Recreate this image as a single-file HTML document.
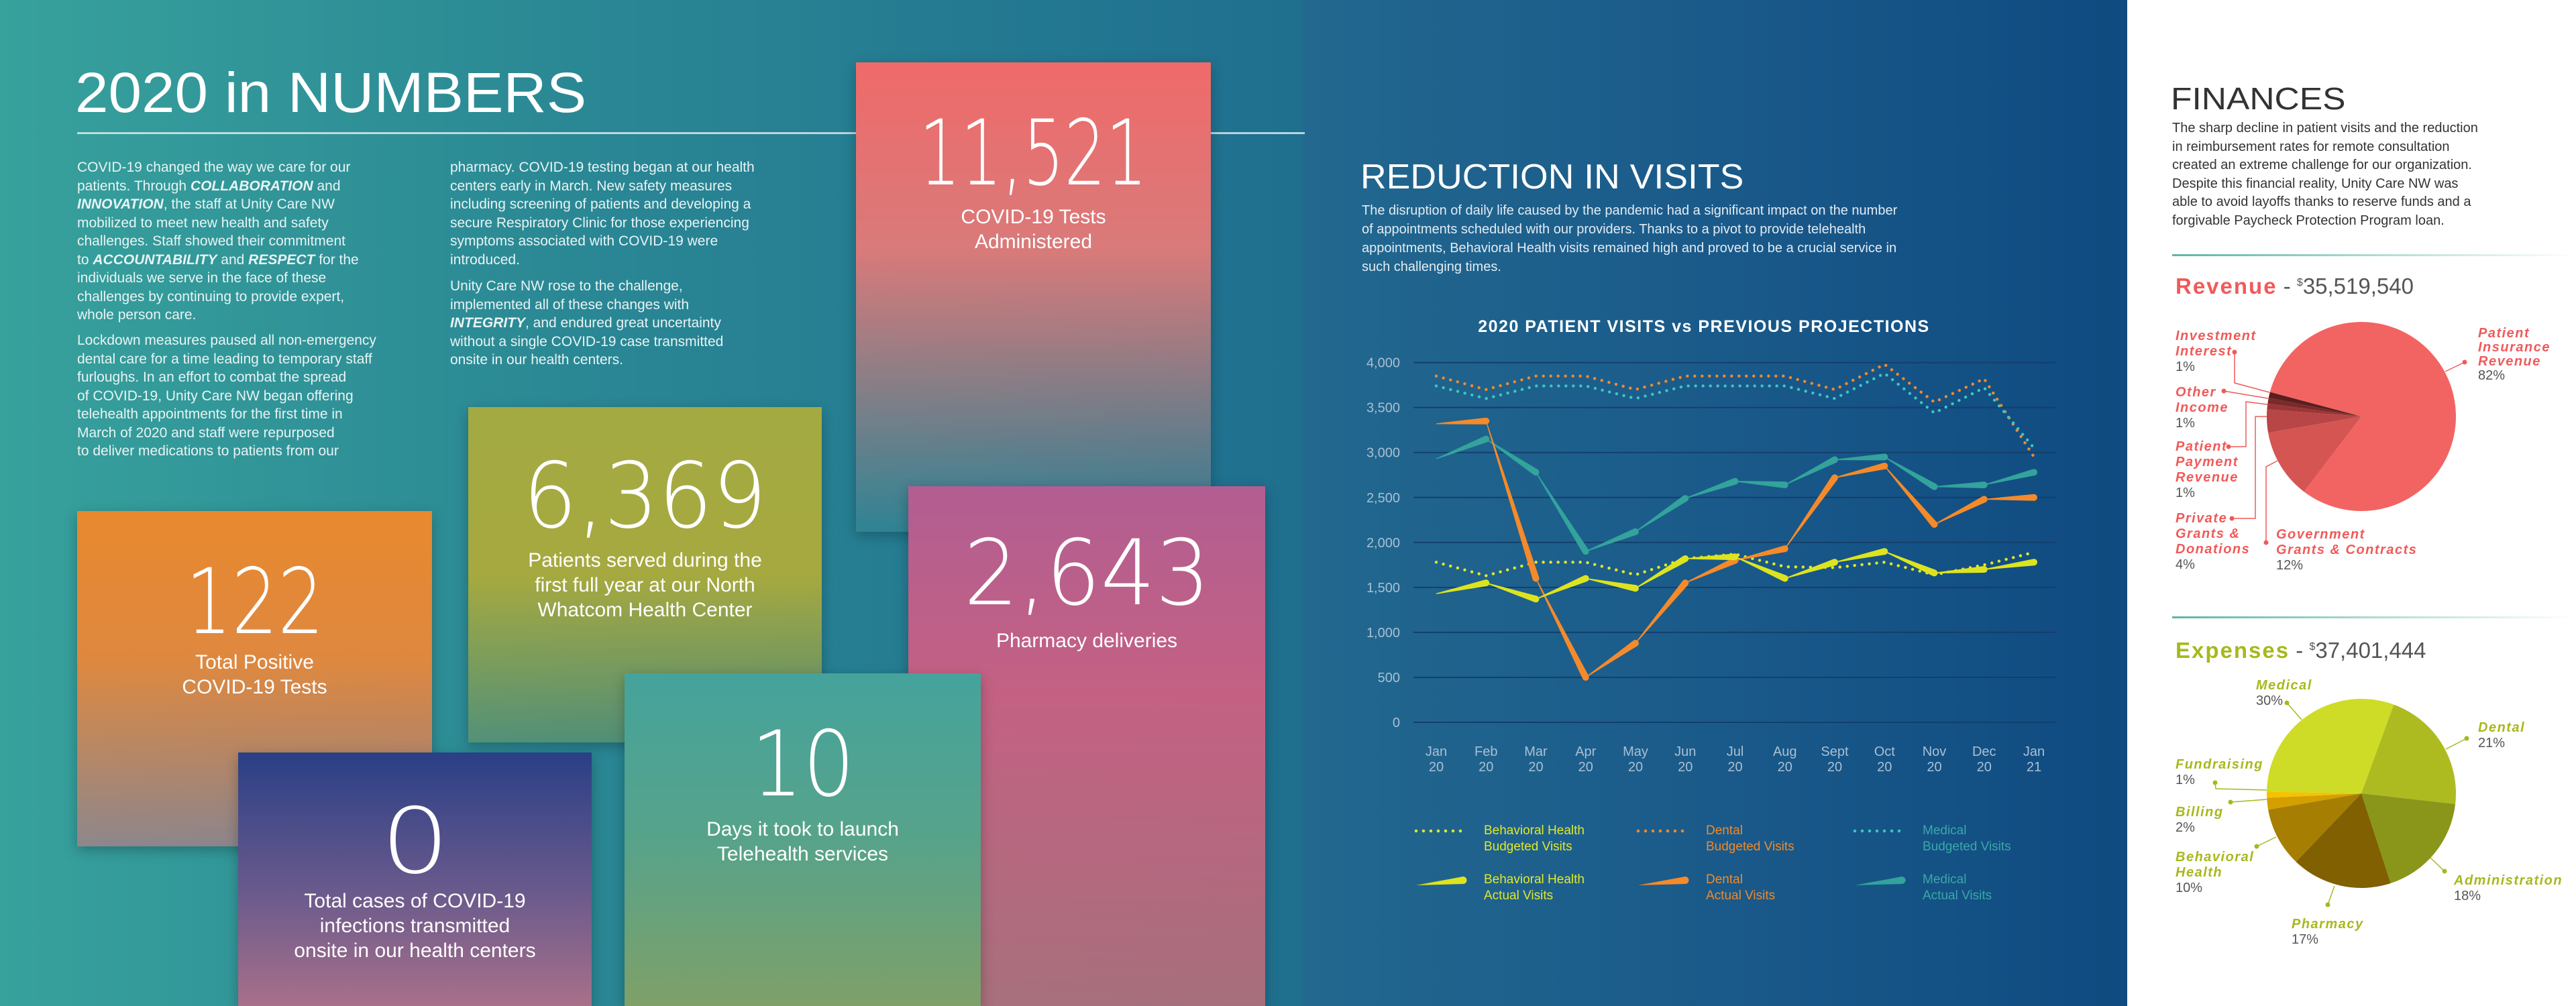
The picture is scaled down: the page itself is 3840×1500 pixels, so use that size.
<!DOCTYPE html>
<html><head><meta charset="utf-8">
<style>
*{margin:0;padding:0;box-sizing:border-box}
body{width:3840px;height:1500px;position:relative;overflow:hidden;font-family:"Liberation Sans",sans-serif}
.abs{position:absolute}
#left{left:0;top:0;width:1942px;height:1500px;background:linear-gradient(90deg,#37a19c 0%,#2a8794 45%,#1f6f8f 100%)}
#mid{left:1942px;top:0;width:1229px;height:1500px;background:linear-gradient(90deg,#22688f 0%,#1a5a8a 50%,#0f4a80 100%)}
#right{left:3171px;top:0;width:669px;height:1500px;background:#fff}
.body{color:#e8f4f4;font-size:21px;line-height:27.5px;white-space:nowrap}
.body b{font-style:italic;font-weight:bold}
.box{position:absolute;box-shadow:0 6px 18px rgba(0,0,0,.25);color:#fff;text-align:center}
.big{position:absolute;left:0;width:100%;color:#fff;line-height:1;font-family:"DejaVu Sans ExtraLight","DejaVu Sans",sans-serif;font-weight:200}
.big span{display:inline-block;transform-origin:center}
.cap{position:absolute;left:0;width:100%;font-size:30px;line-height:37px;color:#fff}
.rl{position:absolute;font-size:20px;font-weight:bold;font-style:italic;letter-spacing:1.5px;line-height:23px;white-space:nowrap}
.pc{font-style:normal;font-weight:normal;color:#555;letter-spacing:0}
</style></head><body>
<div id="left" class="abs"></div>
<div id="mid" class="abs"></div>
<div id="right" class="abs"></div>

<div class="abs" style="left:112px;top:90px;font-size:84px;font-family:'DejaVu Sans ExtraLight','Liberation Sans',sans-serif;font-weight:200;color:#fff;white-space:nowrap;transform:scaleX(1.06);transform-origin:left">2020 in NUMBERS</div>
<div class="abs" style="left:115px;top:197px;width:1830px;height:3px;background:rgba(220,240,240,.8)"></div>

<div class="abs body" style="left:115px;top:236px">COVID-19 changed the way we care for our<br>patients. Through <b>COLLABORATION</b> and<br><b>INNOVATION</b>, the staff at Unity Care NW<br>mobilized to meet new health and safety<br>challenges. Staff showed their commitment<br>to <b>ACCOUNTABILITY</b> and <b>RESPECT</b> for the<br>individuals we serve in the face of these<br>challenges by continuing to provide expert,<br>whole person care.</div>
<div class="abs body" style="left:115px;top:494px">Lockdown measures paused all non-emergency<br>dental care for a time leading to temporary staff<br>furloughs. In an effort to combat the spread<br>of COVID-19, Unity Care NW began offering<br>telehealth appointments for the first time in<br>March of 2020 and staff were repurposed<br>to deliver medications to patients from our</div>
<div class="abs body" style="left:671px;top:236px">pharmacy. COVID-19 testing began at our health<br>centers early in March. New safety measures<br>including screening of patients and developing a<br>secure Respiratory Clinic for those experiencing<br>symptoms associated with COVID-19 were<br>introduced.</div>
<div class="abs body" style="left:671px;top:413px">Unity Care NW rose to the challenge,<br>implemented all of these changes with<br><b>INTEGRITY</b>, and endured great uncertainty<br>without a single COVID-19 case transmitted<br>onsite in our health centers.</div>

<div class="box" style="left:1276px;top:93px;width:529px;height:700px;background:linear-gradient(180deg,#f06a6a 0%,#d97a7a 40%,rgba(60,140,150,.4) 100%)">
<div class="big" style="top:68px;font-size:135px"><span style="transform:scaleX(0.72)">11,521</span></div><div class="cap" style="top:212px">COVID-19 Tests<br>Administered</div></div>
<div class="box" style="left:698px;top:607px;width:527px;height:500px;background:linear-gradient(180deg,#a3aa42 0%,#a6a93f 50%,rgba(120,150,90,.5) 100%)">
<div class="big" style="top:65px;font-size:135px"><span style="transform:scaleX(0.94)">6,369</span></div><div class="cap" style="top:210px">Patients served during the<br>first full year at our North<br>Whatcom Health Center</div></div>
<div class="box" style="left:115px;top:762px;width:529px;height:500px;background:linear-gradient(180deg,#e8892e 0%,#de8840 45%,rgba(200,120,130,.6) 100%)">
<div class="big" style="top:68px;font-size:135px"><span style="transform:scaleX(0.8)">122</span></div><div class="cap" style="top:207px">Total Positive<br>COVID-19 Tests</div></div>
<div class="box" style="left:1354px;top:725px;width:532px;height:775px;background:linear-gradient(180deg,#b25e92 0%,#c46183 40%,rgba(190,110,120,.85) 100%)">
<div class="big" style="top:62px;font-size:135px"><span style="transform:scaleX(0.95)">2,643</span></div><div class="cap" style="top:212px">Pharmacy deliveries</div></div>
<div class="box" style="left:931px;top:1004px;width:531px;height:496px;background:linear-gradient(180deg,#45a39c 0%,#57a38a 50%,#7fa068 100%)">
<div class="big" style="top:68px;font-size:135px"><span style="transform:scaleX(0.9)">10</span></div><div class="cap" style="top:214px">Days it took to launch<br>Telehealth services</div></div>
<div class="box" style="left:355px;top:1122px;width:527px;height:378px;background:linear-gradient(180deg,#2a3f86 0%,#6a5a8c 55%,#a8708a 100%)">
<div class="big" style="top:65px;font-size:135px"><span style="transform:scaleX(1.2)">0</span></div><div class="cap" style="top:203px">Total cases of COVID-19<br>infections transmitted<br>onsite in our health centers</div></div>

<div class="abs" style="left:2028px;top:234px;font-size:52px;font-family:'DejaVu Sans ExtraLight','Liberation Sans',sans-serif;font-weight:200;color:#fff;white-space:nowrap;transform:scaleX(1.03);transform-origin:left">REDUCTION IN VISITS</div>
<div class="abs" style="left:2030px;top:300px;font-size:20px;line-height:28px;color:#e2ecf4;white-space:nowrap">The disruption of daily life caused by the pandemic had a significant impact on the number<br>of appointments scheduled with our providers. Thanks to a pivot to provide telehealth<br>appointments, Behavioral Health visits remained high and proved to be a crucial service in<br>such challenging times.</div>

<svg class="abs" style="left:0;top:0" width="3840" height="1500">
<text x="2540" y="495" text-anchor="middle" fill="#fff" font-size="25" font-weight="bold" letter-spacing="1.5">2020 PATIENT VISITS vs PREVIOUS PROJECTIONS</text>
<g id="grid"></g><g id="series"></g><g id="legend"></g>
</svg>

<div class="abs" style="left:3236px;top:120px;font-size:46px;font-family:'DejaVu Sans ExtraLight','Liberation Sans',sans-serif;font-weight:200;color:#333;transform:scaleX(1.12);transform-origin:left">FINANCES</div>
<div class="abs" style="left:3238px;top:178px;font-size:20px;line-height:27.5px;color:#333;white-space:nowrap">The sharp decline in patient visits and the reduction<br>in reimbursement rates for remote consultation<br>created an extreme challenge for our organization.<br>Despite this financial reality, Unity Care NW was<br>able to avoid layoffs thanks to reserve funds and a<br>forgivable Paycheck Protection Program loan.</div>
<div class="abs" style="left:3238px;top:379px;width:602px;height:3px;background:linear-gradient(90deg,#5bb6a6,rgba(91,182,166,0))"></div>
<div class="abs" style="left:3238px;top:919px;width:602px;height:3px;background:linear-gradient(90deg,#5bb6a6,rgba(91,182,166,0))"></div>
<div class="abs" style="left:3243px;top:408px;font-size:33px;white-space:nowrap"><b style="color:#f05a5a;letter-spacing:2px">Revenue</b> <span style="color:#555"> - <sup style="font-size:16px">$</sup>35,519,540</span></div>
<div class="abs" style="left:3243px;top:951px;font-size:33px;white-space:nowrap"><b style="color:#a8b81c;letter-spacing:2px">Expenses</b> <span style="color:#555"> - <sup style="font-size:16px">$</sup>37,401,444</span></div>

<svg class="abs" style="left:3171px;top:0" width="669" height="1500">
<g id="revpie"></g><g id="exppie"></g><g id="leaders" stroke-width="1.5" fill="none"></g>
</svg>

<div class="rl" style="left:3243px;top:490px;color:#f05a5a">Investment<br>Interest<br><span class="pc">1%</span></div>
<div class="rl" style="left:3243px;top:574px;color:#f05a5a">Other<br>Income<br><span class="pc">1%</span></div>
<div class="rl" style="left:3243px;top:655px;color:#f05a5a">Patient<br>Payment<br>Revenue<br><span class="pc">1%</span></div>
<div class="rl" style="left:3243px;top:762px;color:#f05a5a">Private<br>Grants &amp;<br>Donations<br><span class="pc">4%</span></div>
<div class="rl" style="left:3393px;top:786px;color:#f05a5a">Government<br>Grants &amp; Contracts<br><span class="pc">12%</span></div>
<div class="rl" style="left:3694px;top:487px;color:#f05a5a;line-height:21px">Patient<br>Insurance<br>Revenue<br><span class="pc">82%</span></div>

<div class="rl" style="left:3363px;top:1011px;color:#a8b81c">Medical<br><span class="pc">30%</span></div>
<div class="rl" style="left:3694px;top:1074px;color:#a8b81c">Dental<br><span class="pc">21%</span></div>
<div class="rl" style="left:3243px;top:1129px;color:#a8b81c">Fundraising<br><span class="pc">1%</span></div>
<div class="rl" style="left:3243px;top:1200px;color:#a8b81c">Billing<br><span class="pc">2%</span></div>
<div class="rl" style="left:3243px;top:1267px;color:#a8b81c">Behavioral<br>Health<br><span class="pc">10%</span></div>
<div class="rl" style="left:3416px;top:1367px;color:#a8b81c">Pharmacy<br><span class="pc">17%</span></div>
<div class="rl" style="left:3658px;top:1302px;color:#a8b81c">Administration<br><span class="pc">18%</span></div>

<script>
const months = ["Jan","Feb","Mar","Apr","May","Jun","Jul","Aug","Sept","Oct","Nov","Dec","Jan"];
const years = ["20","20","20","20","20","20","20","20","20","20","20","20","21"];
const yTicks = [0,500,1000,1500,2000,2500,3000,3500,4000];
const behavioralBudget = [1780,1630,1780,1780,1640,1820,1870,1730,1720,1780,1640,1750,1890];
const dentalBudget = [3850,3700,3850,3850,3700,3850,3850,3850,3700,3980,3560,3820,2950];
const medicalBudget = [3740,3600,3740,3740,3600,3740,3740,3740,3600,3880,3440,3720,3050];
const behavioralActual = [1430,1550,1370,1600,1490,1820,1840,1600,1780,1900,1660,1700,1780];
const dentalActual = [3320,3350,1600,500,880,1550,1800,1930,2720,2850,2200,2480,2500];
const medicalActual = [2930,3150,2780,1900,2120,2490,2680,2640,2920,2950,2620,2640,2780];
const revenueLabels = ["Patient Insurance Revenue","Government Grants & Contracts","Private Grants & Donations","Patient Payment Revenue","Other Income","Investment Interest"];
const revenueValues = [82,12,4,1,1,1];
const expenseLabels = ["Medical","Dental","Administration","Pharmacy","Behavioral Health","Billing","Fundraising"];
const expenseValues = [30,21,18,17,10,2,1];

const NS="http://www.w3.org/2000/svg";
function mk(tag,attrs,parent){const e=document.createElementNS(NS,tag);for(const k in attrs)e.setAttribute(k,attrs[k]);parent.appendChild(e);return e;}
const X0=2141,XSTEP=74.25,Y0=1077,Y4000=540.6;
function xs(i){return X0+i*XSTEP;}
function ys(v){return Y0-v*(Y0-Y4000)/4000;}

const grid=document.getElementById('grid');
yTicks.forEach(t=>{
  const l=mk('line',{x1:2107,x2:3064,y1:ys(t),y2:ys(t),stroke:'#143f6c','stroke-width':2},grid);
  
  
  const tx=mk('text',{x:2087,y:ys(t)+7,'text-anchor':'end',fill:'#a9c0d4','font-size':20},grid);
  tx.textContent=t.toLocaleString('en-US');
  
  
});
months.forEach((m,i)=>{
  const tx=mk('text',{x:xs(i),y:1127,'text-anchor':'middle',fill:'#a9c0d4','font-size':20},grid);
  tx.textContent=m;
  
  
  const ty=mk('text',{x:xs(i),y:1150,'text-anchor':'middle',fill:'#a9c0d4','font-size':20},grid);
  ty.textContent=years[i];
  
  
});

const ser=document.getElementById('series');
function dotted(vals,color,name){
  const pts=vals.map((v,i)=>xs(i)+','+ys(v)).join(' ');
  const p=mk('polyline',{points:pts,fill:'none',stroke:color,'stroke-width':4.5,'stroke-linecap':'round','stroke-dasharray':'0 11'},ser);
  
  
}
function taper(vals,color,name){
  const g=mk('g',{fill:color},ser);
  
  
  for(let i=0;i<vals.length-1;i++){
    const x0=xs(i),y0=ys(vals[i]),x1=xs(i+1),y1=ys(vals[i+1]);
    const dx=x1-x0,dy=y1-y0,L=Math.hypot(dx,dy),nx=-dy/L,ny=dx/L,w0=0.6,w1=5;
    const poly=mk('polygon',{points:[x0+nx*w0,y0+ny*w0,x1+nx*w1,y1+ny*w1,x1-nx*w1,y1-ny*w1,x0-nx*w0,y0-ny*w0].join(' ')},g);
    
    
    const c=mk('circle',{cx:x1,cy:y1,r:5},g);
    
    
  }
}
dotted(dentalBudget,'#f08a2c','dental-budgeted-line');
dotted(medicalBudget,'#3cc6c0','medical-budgeted-line');
dotted(behavioralBudget,'#e2e829','behavioral-budgeted-line');
taper(medicalActual,'#33a39c','medical-actual-line');
taper(dentalActual,'#f58a2a','dental-actual-line');
taper(behavioralActual,'#dde41f','behavioral-actual-line');

const leg=document.getElementById('legend');
const legItems=[
 [2111,1237,'dot','#e2e829','Behavioral Health','Budgeted Visits','#e2e829'],
 [2442,1237,'dot','#f08a2c','Dental','Budgeted Visits','#f08a2c'],
 [2765,1237,'dot','#3cc6c0','Medical','Budgeted Visits','#3aa8a8'],
 [2111,1310,'tap','#dde41f','Behavioral Health','Actual Visits','#e2e829'],
 [2442,1310,'tap','#f58a2a','Dental','Actual Visits','#f08a2c'],
 [2765,1310,'tap','#33a39c','Medical','Actual Visits','#3aa8a8']];
legItems.forEach(it=>{
  const [x,y,type,c,l1,l2,tc]=it;
  const g=mk('g',{},leg);
  
  
  if(type==='dot') mk('line',{x1:x,x2:x+76,y1:y+2,y2:y+2,stroke:c,'stroke-width':4.5,'stroke-linecap':'round','stroke-dasharray':'0 11'},g);
  else { mk('polygon',{points:`${x},${y+10} ${x+70},${y-3} ${x+70},${y+8}`,fill:c},g); mk('circle',{cx:x+70,cy:y+2.5,r:5.5,fill:c},g); }
  const tx=mk('text',{x:x+101,y:y+7,fill:tc,'font-size':19},g);
  tx.textContent=l1;
  const ty=mk('text',{x:x+101,y:y+31,fill:tc,'font-size':19},g);
  ty.textContent=l2;
});

function pie(gid,vals,colors,cx,cy,r,startDeg,name){
  const g=document.getElementById(gid);
  const tot=vals.reduce((a,b)=>a+b,0);let a=startDeg*Math.PI/180;
  vals.forEach((v,i)=>{
    const da=v/tot*2*Math.PI,a2=a+da;
    const p=mk('path',{d:`M${cx},${cy} L${cx+r*Math.cos(a)},${cy+r*Math.sin(a)} A${r},${r} 0 ${da>Math.PI?1:0} 1 ${cx+r*Math.cos(a2)},${cy+r*Math.sin(a2)} Z`,fill:colors[i]},g);
    
    
    a=a2;
  });
}
pie('revpie',revenueValues,['#f26462','#d55553','#b84646','#9c3636','#7c2929','#5c1d1d'],349,621,141,195,'revenue');
pie('exppie',expenseValues,['#cedc27','#adbb21','#8a9619','#806000','#a67f02','#d4a000','#f6c200'],349,1183,141,181,'expense');

const ld=document.getElementById('leaders');
const leaders=[
 ['#f05a5a','M160,525 L160,571 L212,585'],
 ['#f05a5a','M144,583 L210,594'],
 ['#f05a5a','M151,666 L177,666 L177,599 L209,603'],
 ['#f05a5a','M156,773 L191,773 L191,621 L208,621'],
 ['#f05a5a','M207,809 L207,696 L224,687'],
 ['#f05a5a','M503,540 L474,554'],
 ['#a8b81c','M238,1048 L260,1073'],
 ['#a8b81c','M506,1101 L475,1117'],
 ['#a8b81c','M131,1167 L132,1176 L208,1178'],
 ['#a8b81c','M154,1196 L208,1192'],
 ['#a8b81c','M193,1262 L222,1248'],
 ['#a8b81c','M299,1349 L309,1321'],
 ['#a8b81c','M473,1299 L452,1279']];
leaders.forEach(l=>{
  const p=mk('path',{d:l[1],stroke:l[0]},ld);
  
  
  const m=l[1].match(/M([\d.]+),([\d.]+)/);
  const c=mk('circle',{cx:m[1],cy:m[2],r:3.5,fill:l[0],stroke:'none'},ld);
  
  
});
</script>
</body></html>
